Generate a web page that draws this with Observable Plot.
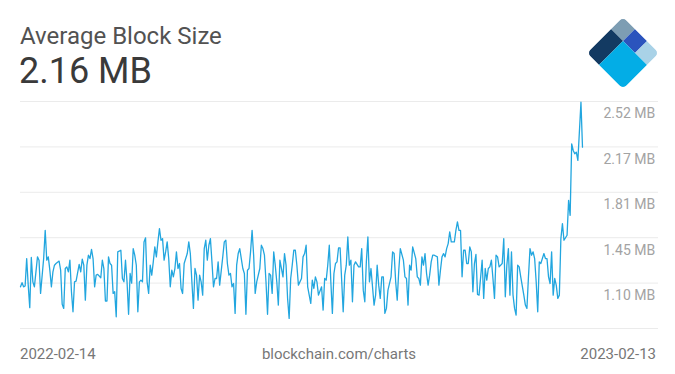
<!DOCTYPE html>
<html>
<head>
<meta charset="utf-8">
<script src="https://cdn.jsdelivr.net/npm/d3@7"></script>
<script src="https://cdn.jsdelivr.net/npm/@observablehq/plot@0.6"></script>
<style>
  html, body { margin: 0; padding: 0; background: #fff; }
  #wrap { position: relative; width: 675px; height: 374px; overflow: hidden; font-family: Roboto, "Noto Sans", sans-serif; }
  .abs { position: absolute; white-space: nowrap; }
  #title { left: 20px; top: 24px; font-size: 24px; line-height: 24px; color: #525252; }
  #value { left: 19px; top: 53px; font-size: 36px; line-height: 36px; color: #3a3a3a; }
  #logo { left: 580px; top: 10px; }
  #chart { left: 0; top: 95px; }
  .foot { top: 347px; font-size: 15px; line-height: 15px; color: #777; }
  #fl { left: 20px; }
  #fc { left: 0; width: 678px; text-align: center; }
  #fr { right: 19px; }
</style>
</head>
<body>
<div id="wrap">
  <div id="title" class="abs">Average Block Size</div>
  <div id="value" class="abs">2.16 MB</div>
  <svg id="logo" class="abs" width="86" height="86" viewBox="580 10 86 86">
    <defs>
      <clipPath id="dia"><rect x="0" y="0" width="51" height="51" rx="5" ry="5"/></clipPath>
    </defs>
    <g transform="translate(623,17) rotate(45)" clip-path="url(#dia)">
      <rect x="0" y="0" width="17" height="17" fill="#7d9db3"/>
      <rect x="17" y="0" width="17" height="17" fill="#2b54bd"/>
      <rect x="34" y="0" width="17" height="17" fill="#a9d2e7"/>
      <rect x="0" y="17" width="17" height="34" fill="#133a62"/>
      <rect x="17" y="17" width="34" height="34" fill="#03ade6"/>
    </g>
  </svg>
  <div id="chart" class="abs"></div>
  <div id="fl" class="abs foot">2022-02-14</div>
  <div id="fc" class="abs foot">blockchain.com/charts</div>
  <div id="fr" class="abs foot">2023-02-13</div>
</div>
<script>
// Day offsets from 2022-02-14 and average block size (MB)
const dayOffset = [
  0,1,2,3,4,5,6,7,8,9,11,12,13,15,16,17,18,19,20,21,22,23,25,26,27,28,29,30,31,32,33,34,35,36,38,39,40,41,42,43,44,45,46,47,48,49,50,52,53,54,55,56,57,58,59,60,61,62,63,65,66,67,68,69,70,71,72,73,
  74,75,76,77,78,79,80,81,82,83,84,85,86,87,88,89,90,91,92,93,94,95,96,97,98,99,100,101,102,103,104,105,106,107,108,109,110,111,112,113,114,115,116,117,118,119,120,121,122,123,124,125,126,127,128,129,131,132,133,134,135,136,137,138,139,140,141,142,143,144,
  145,146,147,148,149,150,151,152,153,155,156,157,158,159,160,161,162,163,164,165,166,167,168,170,171,172,173,174,175,176,177,178,179,180,182,183,184,185,186,187,188,189,190,191,192,193,195,196,197,198,199,200,201,202,203,204,205,206,207,209,210,211,212,213,214,215,216,217,
  219,220,221,222,223,224,225,226,227,229,230,231,232,233,234,235,236,237,238,240,241,242,243,244,245,246,248,249,250,251,252,253,254,256,257,258,259,260,261,262,263,264,265,266,267,268,270,271,272,273,274,275,276,277,278,279,280,281,282,283,284,285,286,287,288,289,290,
  291,292,293,294,295,296,297,299,300,301,302,303,304,305,306,307,308,309,310,312,313,314,315,316,317,318,319,320,321,322,323,324,326,327,328,329,330,331,332,333,334,335,336,337,339,340,341,342,343,344,345,346,347,348,349,350,351,352,354,355,356,357,358,359,360,361,363,364
];
const blockSizeMB = [
  1.071,1.103,1.071,1.077,1.292,1.084,0.908,1.300,1.110,1.071,1.305,1.279,1.019,1.292,1.513,1.279,1.305,1.201,1.071,1.188,1.240,1.253,1.272,1.201,0.934,0.902,1.214,1.227,1.188,1.279,1.032,0.876,1.110,1.116,1.246,1.188,1.287,1.240,0.967,1.240,1.318,1.292,1.363,1.292,1.071,1.162,1.168,1.142,1.279,1.214,0.960,0.960,1.305,1.253,1.240,1.019,1.032,0.837,1.344,1.357,1.136,1.110,1.279,1.110,0.856,1.175,1.100,1.370,
  1.318,1.240,0.876,1.110,1.123,1.110,1.422,1.454,1.110,1.019,1.240,1.162,1.266,1.383,1.305,1.422,1.526,1.435,1.448,1.279,1.344,1.422,1.292,1.071,1.201,1.149,1.214,1.344,1.214,1.253,1.058,1.019,1.253,1.292,1.331,1.422,1.331,1.110,0.902,1.214,1.162,0.967,1.162,1.110,1.006,1.370,1.435,1.279,1.396,1.448,1.266,1.071,1.136,1.136,1.266,1.084,1.305,1.422,1.435,1.253,1.162,1.175,1.071,1.097,0.863,1.240,1.331,1.370,1.292,1.214,
  1.175,0.856,1.201,1.214,1.344,1.513,1.318,1.019,1.110,1.214,1.396,1.370,1.318,1.110,0.856,1.175,1.162,1.019,1.344,1.240,1.110,0.928,1.279,1.149,1.331,1.240,0.980,0.824,1.136,1.240,1.357,1.357,1.240,1.084,1.136,1.305,1.331,1.396,1.071,1.006,0.941,1.123,1.058,1.149,1.110,1.006,1.071,0.889,1.136,1.123,1.240,1.396,1.110,0.863,1.175,1.253,1.266,1.376,1.376,0.876,1.162,1.240,1.461,1.240,1.279,0.954,1.240,1.266,
  1.227,1.227,1.370,1.045,0.954,1.266,1.461,1.110,1.214,0.928,1.006,1.240,1.084,0.980,1.149,1.149,0.863,0.902,1.045,1.149,1.344,1.331,1.110,0.967,1.201,1.370,1.279,1.149,1.136,0.928,1.240,1.201,1.383,1.292,1.149,1.136,1.084,1.305,1.240,1.331,1.175,1.084,1.162,1.266,1.318,1.318,1.305,1.084,1.201,1.305,1.331,1.305,1.370,1.409,1.500,1.422,1.422,1.422,1.513,1.578,1.513,1.513,1.149,1.357,1.357,1.253,1.253,
  1.383,1.344,1.032,1.253,1.324,1.012,1.006,1.279,0.980,1.214,1.123,1.214,1.227,1.279,1.136,0.980,1.318,1.305,1.227,1.253,1.448,0.993,1.240,1.370,1.006,1.344,1.006,0.902,0.850,1.240,1.227,1.149,1.006,0.928,0.902,1.149,1.370,1.318,1.344,1.292,1.110,0.876,1.266,1.253,1.331,1.292,1.292,1.149,1.097,1.344,1.006,1.136,1.084,0.980,1.006,1.448,1.565,1.435,1.474,1.747,1.630,2.189,2.137,2.111,2.124,2.059,2.514,2.163
];
const gridValues = [0.745, 1.10, 1.455, 1.81, 2.165, 2.52];
const tickValues = [1.10, 1.455, 1.81, 2.165, 2.52];
const tickLabels = ["1.10 MB", "1.45 MB", "1.81 MB", "2.17 MB", "2.52 MB"];
const startDate = "2022-02-14";
const endDate = "2023-02-13";

const start = new Date(startDate + "T00:00:00Z");
const end = new Date(endDate + "T00:00:00Z");
const data = dayOffset.map((d, i) => ({date: d3.utcDay.offset(start, d), value: blockSizeMB[i]}));

const chart = Plot.plot({
  width: 675,
  height: 240,
  marginLeft: 20,
  marginRight: 17,
  marginTop: 6,
  marginBottom: 7,
  x: {type: "utc", domain: [start, end], range: [20, 582], axis: null},
  y: {domain: [0.745, 2.52], axis: null},
  style: {fontFamily: "Roboto, sans-serif", background: "transparent", overflow: "visible"},
  marks: [
    Plot.ruleY(gridValues, {stroke: "#ebebeb", strokeWidth: 1}),
    Plot.line(data, {x: "date", y: "value", stroke: "#22a6df", strokeWidth: 1.3}),
    Plot.text(tickValues, {
      y: d => d,
      text: (d, i) => tickLabels[i],
      frameAnchor: "right",
      textAnchor: "start",
      dx: -55,
      dy: 12.5,
      fill: "#a3a3a3",
      fontSize: 14
    })
  ]
});
document.getElementById("chart").appendChild(chart);
</script>
</body>
</html>
